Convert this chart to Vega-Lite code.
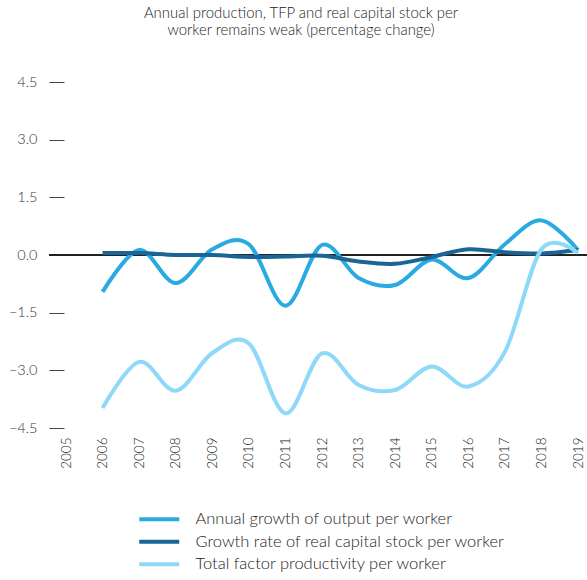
{
  "$schema": "https://vega.github.io/schema/vega-lite/v6.json",
  "autosize": "none",
  "width": 538,
  "height": 346,
  "padding": {"left": 49, "top": 82, "right": 0, "bottom": 152},
  "background": "white",
  "config": {"view": {"stroke": null}, "font": "Lato"},
  "title": {
    "text": ["Annual production, TFP and real capital stock per", "worker remains weak (percentage change)"],
    "fontSize": 14.9,
    "fontWeight": 300,
    "font": "Lato",
    "color": "#222222",
    "frame": "group",
    "dx": -17,
    "offset": 36
  },
  "data": {
    "values": [
      {"year": 2006, "series": "Annual growth of output per worker", "value": -0.96},
      {"year": 2007, "series": "Annual growth of output per worker", "value": 0.13},
      {"year": 2008, "series": "Annual growth of output per worker", "value": -0.73},
      {"year": 2009, "series": "Annual growth of output per worker", "value": 0.15},
      {"year": 2010, "series": "Annual growth of output per worker", "value": 0.28},
      {"year": 2011, "series": "Annual growth of output per worker", "value": -1.32},
      {"year": 2012, "series": "Annual growth of output per worker", "value": 0.26},
      {"year": 2013, "series": "Annual growth of output per worker", "value": -0.6},
      {"year": 2014, "series": "Annual growth of output per worker", "value": -0.78},
      {"year": 2015, "series": "Annual growth of output per worker", "value": -0.12},
      {"year": 2016, "series": "Annual growth of output per worker", "value": -0.6},
      {"year": 2017, "series": "Annual growth of output per worker", "value": 0.28},
      {"year": 2018, "series": "Annual growth of output per worker", "value": 0.9},
      {"year": 2019, "series": "Annual growth of output per worker", "value": 0.13},
      {"year": 2006, "series": "Growth rate of real capital stock per worker", "value": 0.05},
      {"year": 2007, "series": "Growth rate of real capital stock per worker", "value": 0.05},
      {"year": 2008, "series": "Growth rate of real capital stock per worker", "value": 0.0},
      {"year": 2009, "series": "Growth rate of real capital stock per worker", "value": 0.0},
      {"year": 2010, "series": "Growth rate of real capital stock per worker", "value": -0.05},
      {"year": 2011, "series": "Growth rate of real capital stock per worker", "value": -0.04},
      {"year": 2012, "series": "Growth rate of real capital stock per worker", "value": -0.02},
      {"year": 2013, "series": "Growth rate of real capital stock per worker", "value": -0.17},
      {"year": 2014, "series": "Growth rate of real capital stock per worker", "value": -0.23},
      {"year": 2015, "series": "Growth rate of real capital stock per worker", "value": -0.05},
      {"year": 2016, "series": "Growth rate of real capital stock per worker", "value": 0.15},
      {"year": 2017, "series": "Growth rate of real capital stock per worker", "value": 0.07},
      {"year": 2018, "series": "Growth rate of real capital stock per worker", "value": 0.04},
      {"year": 2019, "series": "Growth rate of real capital stock per worker", "value": 0.13},
      {"year": 2006, "series": "Total factor productivity per worker", "value": -3.98},
      {"year": 2007, "series": "Total factor productivity per worker", "value": -2.78},
      {"year": 2008, "series": "Total factor productivity per worker", "value": -3.53},
      {"year": 2009, "series": "Total factor productivity per worker", "value": -2.55},
      {"year": 2010, "series": "Total factor productivity per worker", "value": -2.3},
      {"year": 2011, "series": "Total factor productivity per worker", "value": -4.12},
      {"year": 2012, "series": "Total factor productivity per worker", "value": -2.56},
      {"year": 2013, "series": "Total factor productivity per worker", "value": -3.38},
      {"year": 2014, "series": "Total factor productivity per worker", "value": -3.51},
      {"year": 2015, "series": "Total factor productivity per worker", "value": -2.9},
      {"year": 2016, "series": "Total factor productivity per worker", "value": -3.42},
      {"year": 2017, "series": "Total factor productivity per worker", "value": -2.52},
      {"year": 2018, "series": "Total factor productivity per worker", "value": 0.15},
      {"year": 2019, "series": "Total factor productivity per worker", "value": 0.05}
    ]
  },
  "layer": [
    {
      "mark": {"type": "rule", "color": "#222222", "strokeWidth": 1},
      "encoding": {"y": {"datum": 0, "type": "quantitative"}}
    },
    {
      "mark": {"type": "line", "interpolate": "cardinal", "tension": 0, "strokeWidth": 4, "strokeCap": "butt"},
      "encoding": {
        "x": {
          "field": "year",
          "type": "quantitative",
          "scale": {"domain": [2004.535, 2019.246], "nice": false, "zero": false},
          "axis": {
            "title": null,
            "values": [2005, 2006, 2007, 2008, 2009, 2010, 2011, 2012, 2013, 2014, 2015, 2016, 2017, 2018, 2019],
            "format": "d",
            "labelAngle": 270,
            "labelFlush": false,
            "labelOverlap": false,
            "ticks": false,
            "domain": false,
            "grid": false,
            "labelPadding": 9,
            "labelFontSize": 13.5,
            "labelFontWeight": 300,
            "labelFont": "Lato",
            "labelColor": "#222222"
          }
        },
        "y": {
          "field": "value",
          "type": "quantitative",
          "scale": {"domain": [-4.5, 4.5], "nice": false},
          "axis": {
            "title": null,
            "values": [-4.5, -3, -1.5, 0, 1.5, 3, 4.5],
            "format": ".1f",
            "domain": false,
            "grid": false,
            "offset": -15,
            "tickSize": 15,
            "tickColor": "#444444",
            "tickWidth": 1,
            "labelPadding": 12,
            "labelFontSize": 14.5,
            "labelFontWeight": 300,
            "labelFont": "Lato",
            "labelColor": "#333333"
          }
        },
        "color": {
          "field": "series",
          "type": "nominal",
          "scale": {
            "domain": ["Annual growth of output per worker", "Growth rate of real capital stock per worker", "Total factor productivity per worker"],
            "range": ["#29abe2", "#1a6496", "#8ed8f8"]
          },
          "legend": {
            "title": null,
            "orient": "none",
            "legendX": 102,
            "legendY": 429,
            "direction": "vertical",
            "symbolType": "M-4,0H4",
            "symbolSize": 100,
            "symbolStrokeWidth": 4,
            "labelOffset": 28,
            "labelFontSize": 16.5,
            "labelFontWeight": 300,
            "labelFont": "Lato",
            "labelColor": "#222222",
            "rowPadding": 5.5,
            "labelLimit": 400
          }
        }
      }
    }
  ]
}
